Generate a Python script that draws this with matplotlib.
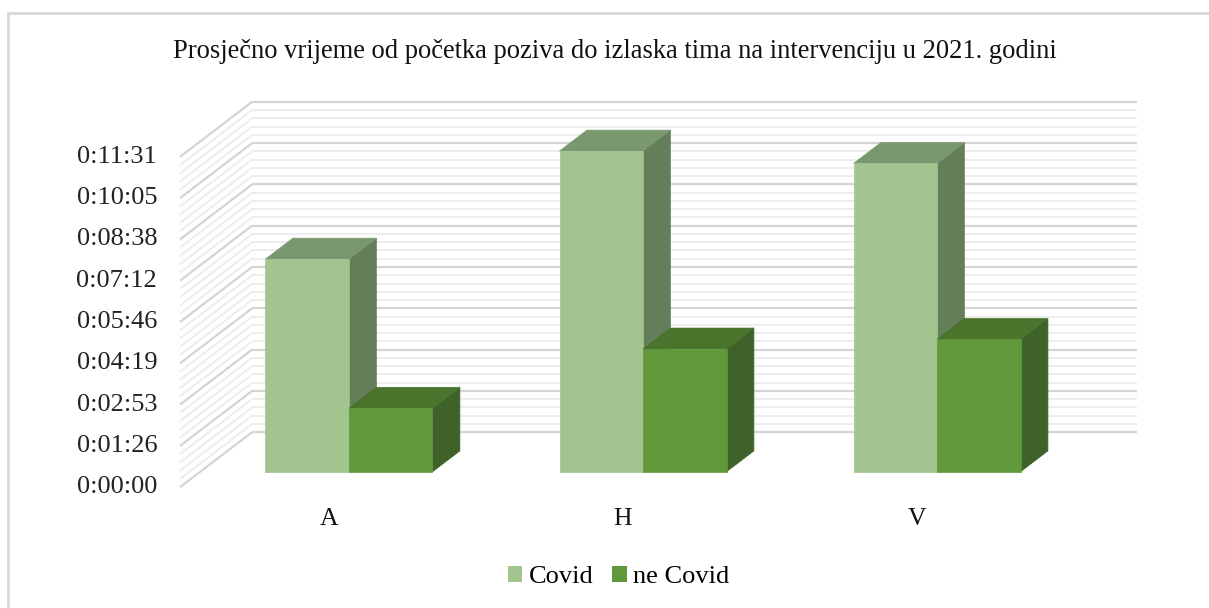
import numpy as np
import matplotlib
matplotlib.use("Agg")
import matplotlib.pyplot as plt
from matplotlib.patches import Polygon, Patch

plt.rcParams['font.family'] = ['Liberation Serif', 'DejaVu Serif']

# data (times as h:mm:ss)
categories = ['A', 'H', 'V']
covid = ['0:07:25', '0:11:11', '0:10:45']
ne_covid = ['0:02:13', '0:04:17', '0:04:37']
tick_labels = ['0:00:00', '0:01:26', '0:02:53', '0:04:19', '0:05:46',
               '0:07:12', '0:08:38', '0:10:05', '0:11:31']
tick_step = 86.4          # seconds (0.001 day)
minor_per_major = 5
title = 'Prosječno vrijeme od početka poziva do izlaska tima na intervenciju u 2021. godini'


def to_sec(s):
    h, m, sec = s.split(':')
    return int(h) * 3600 + int(m) * 60 + int(sec)


covid_s = np.array([to_sec(t) for t in covid])
ne_s = np.array([to_sec(t) for t in ne_covid])

# colours: front, top, side
c_covid = ('#a2c48f', '#7a9870', '#657e5a')
c_ne = ('#61983b', '#4a732c', '#3e6229')

# oblique "3d" geometry (x in category units, y in seconds)
depth_dx, depth_dy = 0.245, 115.0      # full floor depth
front_d, back_d = -0.28, 0.72          # wall planes relative to bar front
bar_d = 0.38                           # bar depth
bar_w = 0.284
wall_left, wall_right = -0.506, 2.504  # wall x extent at the bar-front depth

fig = plt.figure(figsize=(12.09, 6.08), dpi=100)
ax = fig.add_axes([0, 0, 1, 1])
ax.set_xlim(-1.187, 2.925)
ax.set_ylim(-285, 987)
ax.axis('off')


def off(d):
    return depth_dx * d, depth_dy * d


# gridlines on back wall and left side wall
fx, fy = off(front_d)
bx, by = off(back_d)
n_lines = (len(tick_labels) - 1) * minor_per_major
for k in range(n_lines + 1):
    v = k * tick_step / minor_per_major
    major = k % minor_per_major == 0
    col = '#d4d4d4' if major else '#ececec'
    lw = 1.6 if major else 1.3
    z = 1 if major else 0.5
    ax.plot([wall_left + fx, wall_left + bx], [v + fy, v + by], color=col, lw=lw, zorder=z,
            solid_capstyle='butt')
    ax.plot([wall_left + bx, wall_right + bx], [v + by, v + by], color=col, lw=lw, zorder=z,
            solid_capstyle='butt')

# tick labels at the front plane
for i, lab in enumerate(tick_labels):
    ax.annotate(lab, xy=(wall_left + fx, i * tick_step + fy), xytext=(-16.5, 0),
                textcoords='offset points', ha='right', va='center', fontsize=19,
                color='#222222')


def bar3d(x0, h, cols):
    w = bar_w
    dx, dy = off(bar_d)
    front = [(x0, 0), (x0 + w, 0), (x0 + w, h), (x0, h)]
    top = [(x0, h), (x0 + w, h), (x0 + w + dx, h + dy), (x0 + dx, h + dy)]
    side = [(x0 + w, 0), (x0 + w + dx, dy), (x0 + w + dx, h + dy), (x0 + w, h)]
    ax.add_patch(Polygon(side, closed=True, fc=cols[2], ec=cols[2], lw=0.5, zorder=3))
    ax.add_patch(Polygon(top, closed=True, fc=cols[1], ec=cols[1], lw=0.5, zorder=3))
    ax.add_patch(Polygon(front, closed=True, fc=cols[0], ec=cols[0], lw=0.5, zorder=3))


for i, cat in enumerate(categories):
    bar3d(i - bar_w, covid_s[i], c_covid)
    bar3d(i, ne_s[i], c_ne)
    ax.annotate(cat, xy=(i + fx, fy), xytext=(0, -15), textcoords='offset points',
                ha='center', va='top', fontsize=18.5, color='#111111')

fig.text(0.5 + 10 / 1209, 1 - 51 / 608, title, ha='center', va='center', fontsize=19.1,
         color='#111111')

handles = [Patch(fc=c_covid[0], ec='none'), Patch(fc=c_ne[0], ec='none')]
fig.legend(handles, ['Covid', 'ne Covid'], loc='center', bbox_to_anchor=(618.5 / 1209, 1 - 577 / 608),
           ncol=2, frameon=False, fontsize=19, handlelength=0.55, handleheight=0.55,
           handletextpad=0.25, columnspacing=0.7)

# chart border (top and left visible)
fig.add_artist(plt.Line2D([8 / 1209, 1], [1 - 13 / 608, 1 - 13 / 608], color='#d9d9d9', lw=2))
fig.add_artist(plt.Line2D([8 / 1209, 8 / 1209], [0, 1 - 13 / 608], color='#d9d9d9', lw=2))

fig.savefig('out.png', dpi=100)
